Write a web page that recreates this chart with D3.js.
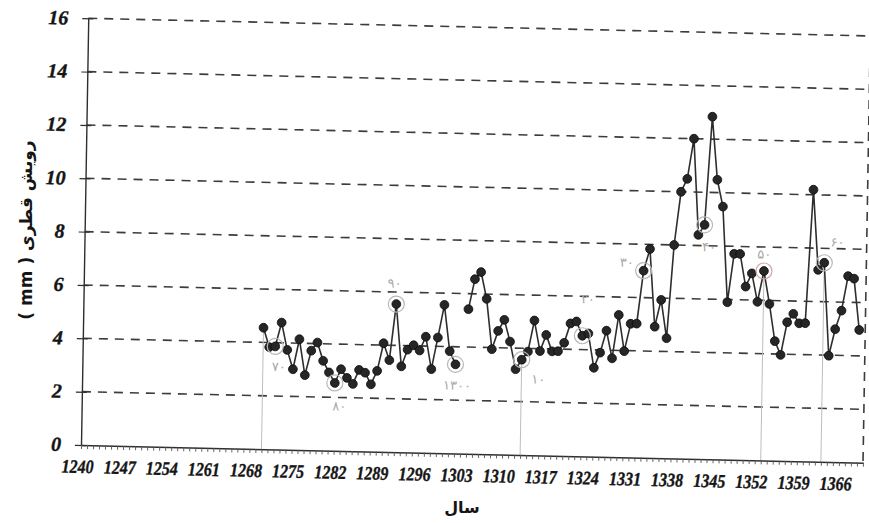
<!DOCTYPE html>
<html>
<head>
<meta charset="utf-8">
<script src="https://cdn.jsdelivr.net/npm/d3@7"></script>
<style>
  html, body { margin: 0; padding: 0; background: #ffffff; }
  svg { display: block; }
</style>
</head>
<body>
<svg id="chart" width="869" height="523"></svg>
<script>
// Annual diameter growth (mm), one value per year; 1301 has no reading.
const years = d3.range(1268, 1368);
const growth = [
  4.55, 3.83, 3.86, 4.76, 3.74, 3.02, 4.15, 2.81, 3.73, 4.04,
  3.36, 2.93, 2.54, 3.06, 2.74, 2.52, 3.05, 2.95, 2.52, 3.03,
  4.07, 3.44, 5.55, 3.22, 3.85, 4.02, 3.83, 4.35, 3.14, 4.33,
  5.56, 3.83, 3.34, null, 5.42, 6.55, 6.82, 5.82, 3.94, 4.63,
  5.05, 4.24, 3.21, 3.57, 3.88, 5.05, 3.91, 4.52, 3.91, 3.92,
  4.24, 4.97, 5.05, 4.52, 4.61, 3.33, 3.90, 4.73, 3.70, 5.33,
  3.98, 5.01, 5.02, 7.01, 7.83, 4.92, 5.93, 4.50, 8.00, 10.00,
  10.49, 12.00, 8.40, 8.78, 12.84, 10.48, 9.48, 5.90, 7.72, 7.72,
  6.50, 7.00, 5.94, 7.10, 5.87, 4.48, 3.97, 5.20, 5.52, 5.17,
  5.18, 10.19, 7.19, 7.46, 3.98, 4.98, 5.68, 6.98, 6.89, 4.97
];
const yTicks = [0, 2, 4, 6, 8, 10, 12, 14, 16];
const xTickLabels = d3.range(1240, 1367, 7);
const minorTickYears = d3.range(1238, 1369);
const dropYears = [1268, 1311, 1351, 1361];
const noteYears = [1270, 1280, 1290, 1300, 1311, 1321, 1331, 1341, 1351, 1361];
const noteTexts = ["۷۰", "۸۰", "۹۰", "۱۳۰۰", "۱۰", "۲۰", "۳۰", "۴۰", "۵۰", "۶۰"];
const yTitle = "( mm ) رویش قطری";
const xTitle = "سال";

const series = years.map((yr, i) => ({ year: yr, v: growth[i] }));
const valueOf = yr => series.find(d => d.year === yr).v;

// ---- layout ----
const W = 782, H = 426.7;
const svg = d3.select("#chart");
// the plot sits slightly tilted on the page
const plot = svg.append("g")
  .attr("transform", "matrix(1,0.0226,-0.017,1,88.25,18.3)");

const x = d3.scaleLinear().domain([1238, 1368]).range([0, W]);
const y = d3.scaleLinear().domain([0, 16]).range([H, 0]);

const ink = "#2e2e2e";
const serif = "'Liberation Serif','Times New Roman',serif";

// horizontal dashed grid (incl. top border)
plot.append("g").selectAll("line")
  .data(yTicks.filter(d => d > 0))
  .join("line")
  .attr("x1", 0).attr("x2", W)
  .attr("y1", d => y(d)).attr("y2", d => y(d))
  .attr("stroke", "#3c3c3c").attr("stroke-width", 1.6)
  .attr("stroke-dasharray", "9,7");

// right dashed border
plot.append("line")
  .attr("x1", W).attr("x2", W).attr("y1", 0).attr("y2", H)
  .attr("stroke", "#3c3c3c").attr("stroke-width", 1.6)
  .attr("stroke-dasharray", "9,7");

// pencil drop lines
plot.append("g").selectAll("line")
  .data(dropYears)
  .join("line")
  .attr("x1", d => x(d)).attr("x2", d => x(d))
  .attr("y1", d => y(valueOf(d))).attr("y2", y(0))
  .attr("stroke", "#bdbdbd").attr("stroke-width", 1);

// y axis
const yAxis = plot.append("g")
  .call(d3.axisLeft(y).tickValues(yTicks).tickSize(6).tickSizeOuter(0)
        .tickPadding(14).tickFormat(d3.format("d")));
yAxis.select(".domain").attr("stroke", ink).attr("stroke-width", 1.4);
yAxis.selectAll(".tick line").attr("stroke", ink).attr("stroke-width", 1.2)
  .attr("x1", 5);
yAxis.selectAll(".tick text")
  .attr("font-family", serif).attr("font-weight", "bold")
  .attr("font-style", "italic").attr("font-size", 20)
  .attr("fill", "#151515").attr("stroke", "#151515").attr("stroke-width", 0.4)
  .attr("dy", "0.3em");

// x axis: yearly minor ticks
const xAxis = plot.append("g")
  .attr("transform", `translate(0,${H})`)
  .call(d3.axisBottom(x).tickValues(minorTickYears).tickSize(4)
        .tickSizeOuter(0).tickFormat(""));
xAxis.select(".domain").attr("stroke", ink).attr("stroke-width", 1.5);
xAxis.selectAll(".tick line").attr("stroke", "#555").attr("stroke-width", 0.9);

// x tick labels every seven years
plot.append("g").selectAll("text")
  .data(xTickLabels)
  .join("text")
  .attr("x", d => x(d) - 15)
  .attr("y", H + 28)
  .attr("text-anchor", "middle")
  .attr("font-family", serif).attr("font-weight", "bold")
  .attr("font-style", "italic").attr("font-size", 19)
  .attr("textLength", 32).attr("lengthAdjust", "spacingAndGlyphs")
  .attr("fill", "#151515").attr("stroke", "#151515").attr("stroke-width", 0.4)
  .text(d => d);

// growth line
const line = d3.line()
  .defined(d => d.v != null)
  .x(d => x(d.year)).y(d => y(d.v));
plot.append("path")
  .datum(series)
  .attr("d", line)
  .attr("fill", "none").attr("stroke", ink).attr("stroke-width", 1.6);

plot.append("g").selectAll("circle")
  .data(series.filter(d => d.v != null))
  .join("circle")
  .attr("cx", d => x(d.year)).attr("cy", d => y(d.v))
  .attr("r", 4.4)
  .attr("fill", "#262626").attr("stroke", "#0d0d0d").attr("stroke-width", 0.8);

// pencil notes marking the decades
const noteOffsets = [[4, 20], [5, 23], [-2, -21], [2, 21], [17, 19],
                     [5, -37], [-17, -8], [5, 22], [0, -17], [13, -21]];
const notes = plot.append("g");
noteYears.forEach((yr, i) => {
  const cx = x(yr), cy = y(valueOf(yr));
  notes.append("circle")
    .attr("cx", cx).attr("cy", cy).attr("r", 8)
    .attr("fill", "none")
    .attr("stroke", yr === 1351 ? "#d7a3a3" : "#b8b8b8")
    .attr("stroke-width", 1.2);
  notes.append("text")
    .attr("x", cx + noteOffsets[i][0]).attr("y", cy + noteOffsets[i][1])
    .attr("text-anchor", "middle").attr("dy", "0.35em")
    .attr("font-family", "'DejaVu Sans',sans-serif").attr("font-size", 13)
    .attr("fill", "#a8a8a8")
    .text(noteTexts[i]);
});

// axis titles
svg.append("text")
  .attr("transform", "translate(32,230) rotate(-90)")
  .attr("text-anchor", "middle")
  .attr("font-family", "'DejaVu Sans',sans-serif").attr("font-weight", "bold")
  .attr("font-size", 17).attr("fill", "#151515")
  .text(yTitle);

svg.append("text")
  .attr("x", 462).attr("y", 513)
  .attr("text-anchor", "middle")
  .attr("font-family", "'DejaVu Sans',sans-serif").attr("font-weight", "bold")
  .attr("font-size", 16).attr("fill", "#151515")
  .text(xTitle);
</script>
</body>
</html>
